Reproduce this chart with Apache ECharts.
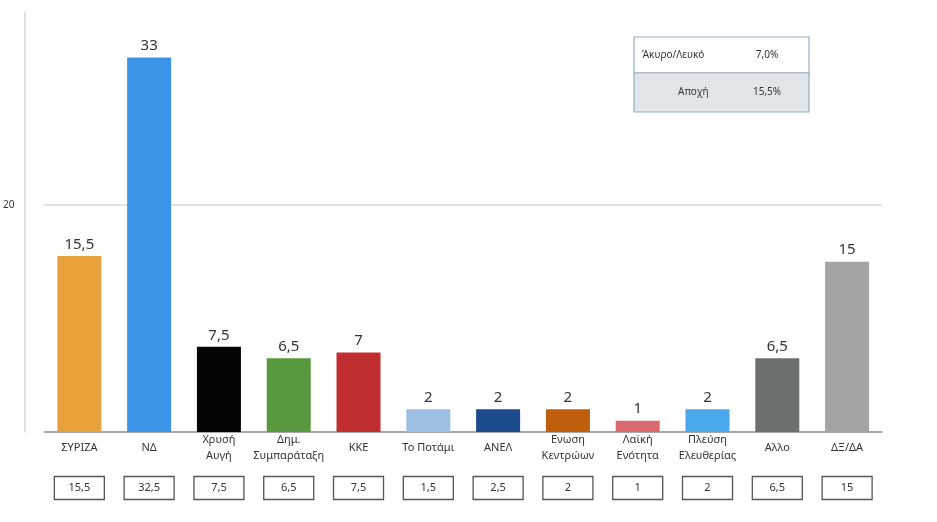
<!DOCTYPE html>
<html>
<head>
<meta charset="utf-8">
<script src="https://cdn.jsdelivr.net/npm/echarts@6/dist/echarts.min.js"></script>
<style>
html, body { margin: 0; padding: 0; background: #fff; }
#chart { width: 937px; height: 522px; }
</style>
</head>
<body>
<div id="chart"></div>
<script>
var categories = ['ΣΥΡΙΖΑ', 'ΝΔ', 'Χρυσή\nΑυγή', 'Δημ.\nΣυμπαράταξη', 'ΚΚΕ', 'Το Ποτάμι', 'ΑΝΕΛ', 'Ενωση\nΚεντρώων', 'Λαϊκή\nΕνότητα', 'Πλεύση\nΕλευθερίας', 'Αλλο', 'ΔΞ/ΔΑ'];
var currentValues = [15.5, 33, 7.5, 6.5, 7, 2, 2, 2, 1, 2, 6.5, 15];
var previousValues = [15.5, 32.5, 7.5, 6.5, 7.5, 1.5, 2.5, 2, 1, 2, 6.5, 15];
var barColors = ['#E9A23B', '#3B94E8', '#050505', '#58983F', '#C12E2F', '#9CBFE3', '#1B4B8C', '#BF5E0B', '#DA6A6E', '#4AA7EA', '#6B6F6D', '#A4A4A4'];
var yTicks = [20];
var tableLabels = ['Άκυρο/Λευκό', 'Αποχή'];
var tableValues = ['7,0%', '15,5%'];

function fmt(v){
    return String(v).replace('.', ',');
}

function buildTable(){
    var x = 634, y = 37, w = 175, rowH = [36, 39];
    var items = [];
    var top = y;
    for(var i = 0 ; i < tableLabels.length ; i ++){
        items.push({
            type: 'rect',
            shape: {x: x, y: top, width: w, height: rowH[i]},
            style: {fill: i === 1 ? '#E2E6EB' : '#ffffff', stroke: '#93AFC0', lineWidth: 1.2}
        });
        items.push({
            type: 'text',
            x: i === 0 ? x + 8 : x + 44,
            y: top + rowH[i] / 2,
            style: {text: tableLabels[i], fill: '#333', font: '10px "Noto Sans"', verticalAlign: 'middle', align: 'left'}
        });
        items.push({
            type: 'text',
            x: x + 133,
            y: top + rowH[i] / 2,
            style: {text: tableValues[i], fill: '#333', font: '10px "Noto Sans"', verticalAlign: 'middle', align: 'center'}
        });
        top += rowH[i];
    }
    return items;
}

var chart = echarts.init(document.getElementById('chart'));
var option = {
    animation: false,
    textStyle: {fontFamily: 'Noto Sans'},
    grid: {left: 40, right: 55, top: 12, bottom: 90},
    xAxis: [
        {
            type: 'category',
            data: categories,
            axisLine: {lineStyle: {color: '#8a8a8a', width: 1.5}},
            axisTick: {show: false},
            axisLabel: {
                interval: 0,
                color: '#333',
                fontSize: 11,
                lineHeight: 16,
                margin: 16,
                verticalAlign: 'middle'
            }
        },
        {
            type: 'category',
            position: 'bottom',
            data: categories,
            axisLine: {show: false},
            axisTick: {show: false},
            axisLabel: {
                interval: 0,
                color: '#333',
                fontSize: 11,
                margin: 56,
                verticalAlign: 'middle',
                align: 'center',
                width: 50,
                height: 23,
                lineHeight: 23,
                borderColor: '#555',
                borderWidth: 1.3,
                formatter: function(value, idx){ return fmt(previousValues[idx]); }
            }
        }
    ],
    yAxis: {
        type: 'value',
        min: 0,
        max: 37,
        interval: 20,
        offset: 20,
        axisLine: {show: true, lineStyle: {color: '#d6d6d6', width: 1.5}},
        axisTick: {show: false},
        splitLine: {
            show: true,
            showMinLine: false,
            showMaxLine: false,
            lineStyle: {color: '#d9d9d9', width: 1.5}
        },
        axisLabel: {
            color: '#333',
            fontSize: 10,
            margin: 10,
            formatter: function(v){ return yTicks.indexOf(v) >= 0 ? String(v) : ''; }
        }
    },
    series: [
        {
            type: 'bar',
            barWidth: 44,
            data: currentValues.map(function(v, i){
                return {value: v, itemStyle: {color: barColors[i]}};
            }),
            label: {
                show: true,
                position: 'top',
                distance: 4,
                color: '#333',
                fontSize: 15,
                formatter: function(p){ return fmt(p.value); }
            }
        }
    ],
    graphic: buildTable()
};
chart.setOption(option);
</script>
</body>
</html>
